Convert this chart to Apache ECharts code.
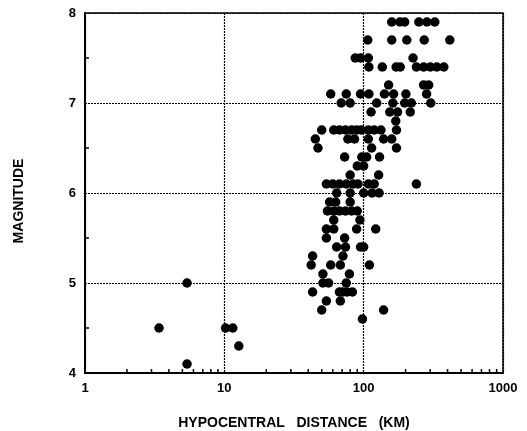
<!DOCTYPE html>
<html>
<head>
<meta charset="utf-8">
<script src="https://cdn.jsdelivr.net/npm/echarts@6/dist/echarts.min.js"></script>
<style>
html,body{margin:0;padding:0;background:#fff;}
#chart{width:527px;height:431px;}
</style>
</head>
<body>
<div id="chart"></div>
<script>
// Magnitude rows and the hypocentral distances (km) of the events in each row
const rowMagnitudes = [7.9, 7.7, 7.5, 7.4, 7.2, 7.1, 7.0, 6.9, 6.8, 6.7, 6.6, 6.5, 6.4, 6.3, 6.2, 6.1, 6.0,
                       5.9, 5.8, 5.7, 5.6, 5.5, 5.4, 5.3, 5.2, 5.1, 5.0, 4.9, 4.8, 4.7, 4.6, 4.5, 4.3, 4.1];
const rowDistances = [
  [159, 182, 197, 249, 284, 324],                  // 7.9
  [107, 159, 204, 272, 415],                       // 7.7
  [87, 95, 108, 226],                              // 7.5
  [109, 136, 171, 183, 239, 270, 301, 335, 376],   // 7.4
  [151, 269, 293],                                 // 7.2
  [58, 75, 95, 109, 141, 164, 201, 283],           // 7.1
  [69, 80, 124, 162, 197, 220, 303],               // 7.0
  [113, 154, 175, 216],                            // 6.9
  [170],                                           // 6.8
  [50, 61, 67, 74, 82, 89, 96, 108, 119, 133, 172],// 6.7
  [45, 77, 86, 108, 139, 159],                     // 6.6
  [47, 114, 172],                                  // 6.5
  [73, 97, 105, 130],                              // 6.4
  [90, 100],                                       // 6.3
  [80, 128],                                       // 6.2
  [54, 60, 67, 75, 84, 91, 108, 119, 239],         // 6.1
  [64, 80, 100, 115, 129],                         // 6.0
  [57, 63, 80],                                    // 5.9
  [55, 61, 67, 74, 82, 90],                        // 5.8
  [61, 94],                                        // 5.7
  [54, 61, 89, 122],                               // 5.6
  [54, 73],                                        // 5.5
  [64, 74, 95, 100],                               // 5.4
  [43, 71],                                        // 5.3
  [42, 58, 68, 110],                               // 5.2
  [51, 79],                                        // 5.1
  [5.4, 51, 56, 75],                               // 5.0
  [43, 67, 71, 76, 83],                            // 4.9
  [54, 68],                                        // 4.8
  [50, 139],                                       // 4.7
  [98],                                            // 4.6
  [3.4, 10.2, 11.5],                               // 4.5
  [12.7],                                          // 4.3
  [5.4]                                            // 4.1
];
const xMinorTickValues = [2, 3, 4, 5, 6, 7, 8, 9, 20, 30, 40, 50, 60, 70, 80, 90, 200, 300, 400, 500, 600, 700, 800, 900];
const yMinorTickValues = [4.5, 5.5, 6.5, 7.5];
const xTitle = 'HYPOCENTRAL   DISTANCE   (KM)';
const yTitle = 'MAGNITUDE';

const points = [];
rowMagnitudes.forEach(function (m, i) {
  rowDistances[i].forEach(function (d) { points.push([d, m]); });
});

const FONT = '"Liberation Sans", Arial, Helvetica, sans-serif';
const chart = echarts.init(document.getElementById('chart'), null, { renderer: 'canvas' });

function tickSeries(values, horizontal) {
  return {
    type: 'custom',
    silent: true,
    clip: false,
    data: values.map(function (v) { return horizontal ? [v, 4] : [1, v]; }),
    renderItem: function (params, api) {
      const p = api.coord([api.value(0), api.value(1)]);
      return {
        type: 'line',
        shape: horizontal
          ? { x1: p[0], y1: p[1], x2: p[0], y2: p[1] - 4 }
          : { x1: p[0], y1: p[1], x2: p[0] + 4, y2: p[1] },
        style: { stroke: '#000', lineWidth: 1.5 }
      };
    },
    z: 10
  };
}

chart.setOption({
  backgroundColor: '#fff',
  animation: false,
  grid: { left: 85, right: 24, top: 13, bottom: 58, containLabel: false, outerBoundsMode: 'none',
          show: true, borderColor: '#000', borderWidth: 1.5, backgroundColor: 'transparent' },
  xAxis: {
    type: 'log', logBase: 10, min: 1, max: 1000,
    name: xTitle, nameLocation: 'middle', nameGap: 43,
    nameTextStyle: { fontFamily: FONT, fontWeight: 'bold', fontSize: 14, color: '#000' },
    axisLine: { show: true, lineStyle: { color: '#000', width: 2 } },
    axisTick: { show: false },
    minorTick: { show: false },
    axisLabel: { fontFamily: FONT, fontWeight: 'bold', fontSize: 13, color: '#000', margin: 9,
                 formatter: function (v) { return String(v); } },
    splitLine: { show: true, lineStyle: { color: '#000', type: [2, 1], width: 1.2 } }
  },
  yAxis: {
    type: 'value', min: 4, max: 8, interval: 1,
    axisLine: { show: true, lineStyle: { color: '#000', width: 2 } },
    axisTick: { show: false },
    minorTick: { show: false },
    axisLabel: { fontFamily: FONT, fontWeight: 'bold', fontSize: 13, color: '#000', margin: 9 },
    splitLine: { show: true, lineStyle: { color: '#000', type: [2, 1], width: 1.2 } }
  },
  graphic: [{
    type: 'text',
    x: 19, y: 201,
    rotation: Math.PI / 2,
    style: { text: yTitle, fill: '#000', font: 'bold 14px ' + FONT, align: 'center', verticalAlign: 'middle' }
  }],
  series: [
    {
      type: 'scatter',
      data: points,
      symbol: 'circle',
      symbolSize: 9.5,
      itemStyle: { color: '#000', opacity: 1 },
      z: 5
    },
    tickSeries(xMinorTickValues, true),
    tickSeries(yMinorTickValues, false)
  ]
});
</script>
</body>
</html>
